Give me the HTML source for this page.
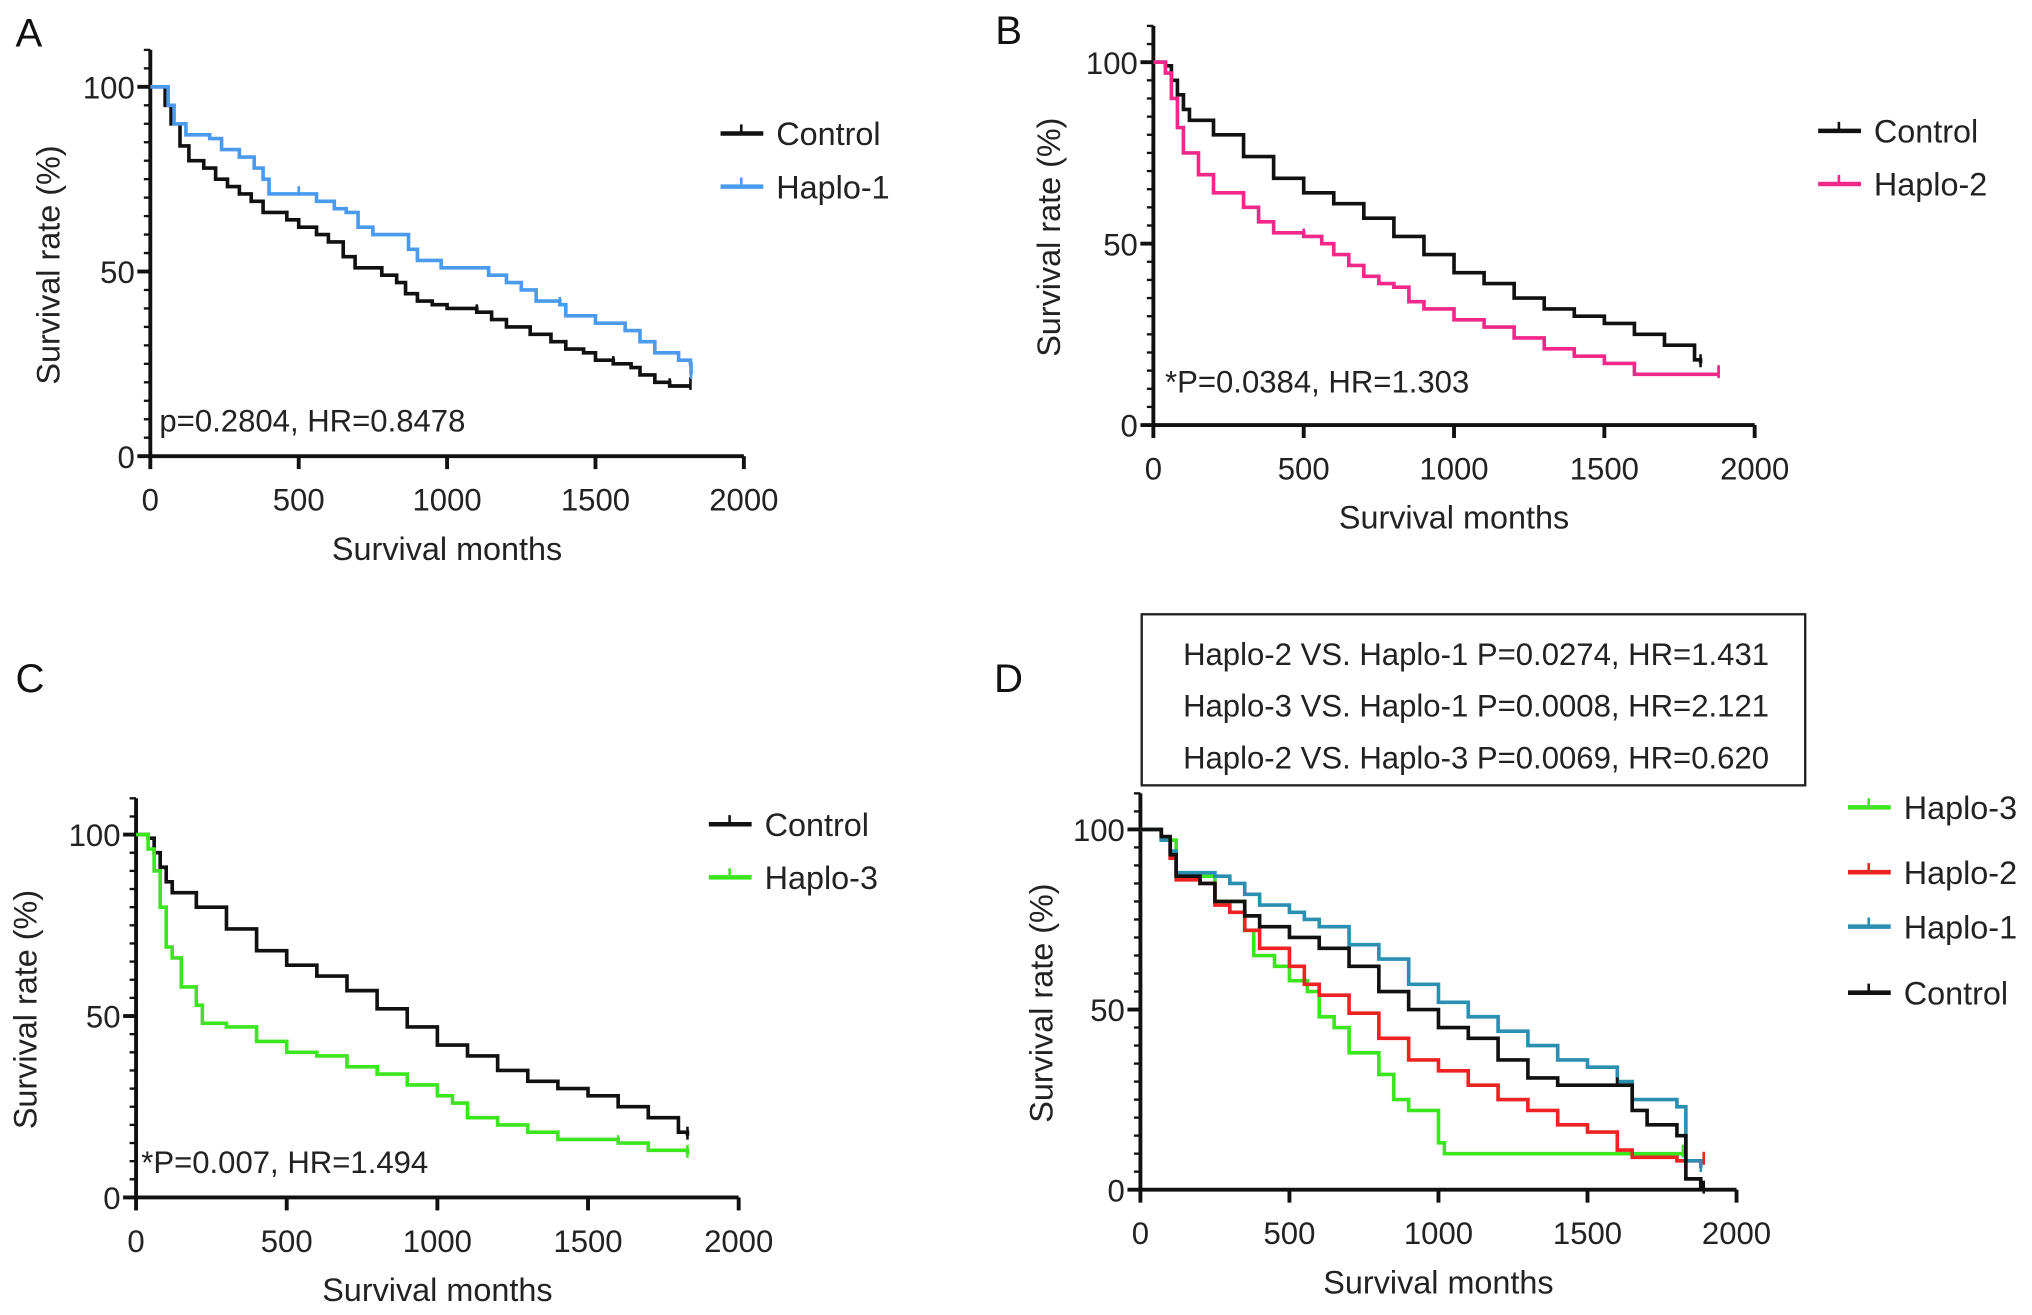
<!DOCTYPE html>
<html><head><meta charset="utf-8"><style>
html,body{margin:0;padding:0;background:#fff;}
svg{display:block;font-family:"Liberation Sans",sans-serif;}
</style></head><body>
<svg id="fig" width="2032" height="1315" viewBox="0 0 1568 1014.7" preserveAspectRatio="none" xmlns="http://www.w3.org/2000/svg"></svg>
<script>
// ---- data (time, survival %) step points ----
const xTicks = [0, 500, 1000, 1500, 2000];
const yTicks = [0, 50, 100];
const A_control = [[0,100],[30,100],[50,95],[70,90],[100,84],[130,80],[180,78],[220,75],[260,73],[300,71],[340,69],[380,66],[420,66],[460,64],[500,62],[560,60],[600,58],[650,54],[690,51],[730,51],[780,49],[830,47],[860,44],[900,42],[950,41],[1000,40],[1100,39],[1150,37],[1200,35],[1280,33],[1350,31],[1400,29],[1460,28],[1500,26],[1560,25],[1620,24],[1650,22],[1700,20],[1750,19],[1820,19]];
const A_haplo1 = [[0,100],[60,95],[80,90],[120,87],[200,86],[240,83],[300,81],[350,78],[380,75],[400,71],[500,71],[560,69],[620,67],[660,66],[700,62],[750,60],[840,60],[870,56],[900,53],[960,53],[980,51],[1100,51],[1140,49],[1200,47],[1250,45],[1300,42],[1380,41],[1400,38],[1500,36],[1600,34],[1650,31],[1700,28],[1780,26],[1820,25],[1822,22]];
const B_control = [[0,100],[40,99],[60,95],[80,91],[100,87],[120,84],[200,80],[300,74],[400,68],[500,64],[600,61],[700,57],[800,52],[900,47],[1000,42],[1100,39],[1200,35],[1300,32],[1400,30],[1500,28],[1600,25],[1700,22],[1800,18],[1820,17]];
const B_haplo2 = [[0,100],[40,97],[60,90],[80,82],[100,75],[150,69],[200,64],[300,60],[350,56],[400,53],[500,52],[560,50],[600,47],[650,44],[700,41],[750,39],[800,38],[850,34],[900,32],[1000,29],[1100,27],[1200,24],[1300,21],[1400,19],[1500,17],[1600,14],[1880,14]];
const C_control = [[0,100],[40,99],[60,95],[80,91],[100,87],[120,84],[200,80],[300,74],[400,68],[500,64],[600,61],[700,57],[800,52],[900,47],[1000,42],[1100,39],[1200,35],[1300,32],[1400,30],[1500,28],[1600,25],[1700,22],[1800,18],[1830,17]];
const C_haplo3 = [[0,100],[40,96],[60,90],[80,80],[100,69],[120,66],[150,58],[200,53],[220,48],[300,47],[400,43],[500,40],[600,39],[700,36],[800,34],[900,31],[1000,28],[1050,26],[1100,22],[1200,20],[1300,18],[1400,16],[1600,15],[1700,13],[1830,12]];
const D_haplo1 = [[0,100],[70,97],[100,94],[120,88],[250,87],[300,85],[350,82],[400,79],[500,77],[550,75],[600,73],[700,68],[800,64],[900,57],[1000,52],[1100,48],[1200,44],[1300,40],[1400,36],[1500,34],[1600,30],[1650,25],[1800,23],[1830,8],[1880,6]];
const D_control = [[0,100],[70,98],[100,93],[120,87],[200,85],[250,80],[350,76],[400,73],[500,70],[600,67],[700,62],[800,55],[900,50],[1000,45],[1100,42],[1200,36],[1300,31],[1400,29],[1600,29],[1650,22],[1700,18],[1800,15],[1830,3],[1880,0],[1890,0]];
const D_haplo2 = [[0,100],[70,97],[100,92],[120,86],[200,85],[250,79],[300,77],[350,72],[400,67],[500,62],[550,57],[600,54],[700,49],[800,42],[900,36],[1000,33],[1100,29],[1200,25],[1300,22],[1400,18],[1500,16],[1600,11],[1650,9],[1800,8],[1890,8]];
const D_haplo3 = [[0,100],[70,97],[120,87],[250,80],[350,72],[380,65],[450,62],[500,58],[560,55],[600,48],[650,45],[700,38],[800,32],[850,25],[900,22],[1000,13],[1020,10],[1820,10]];

const NS = "http://www.w3.org/2000/svg";
const svg = document.getElementById('fig');
function el(tag, attrs, parent) {
  const e = document.createElementNS(NS, tag);
  for (const k in attrs) e.setAttribute(k, attrs[k]);
  (parent || svg).appendChild(e);
  return e;
}
function txt(s, attrs, parent) { const t = el('text', attrs, parent); t.textContent = s; return t; }

function panel(cfg) {
  const g = el('g', {});
  
  
  const sx = v => cfg.x0 + (v / 2000) * (cfg.x1 - cfg.x0);
  const sy = v => cfg.y0 - (v / 100) * (cfg.y0 - cfg.y100);
  const L = txt(cfg.id, {x: cfg.lx, y: cfg.ly, 'font-size': 31, fill: '#111'}, g);
  
  
  const ax = el('g', {stroke: '#111', 'stroke-width': 3, fill: 'none'}, g);
  
  
  el('line', {x1: sx(0), y1: sy(110), x2: sx(0), y2: sy(0)}, ax);
  el('line', {x1: sx(0) - 1, y1: sy(0), x2: sx(2000), y2: sy(0)}, ax);
  for (let v = 0; v <= 110; v += 5) {
    const major = yTicks.indexOf(v) >= 0;
    el('line', {x1: sx(0) - (major ? 10 : 5), y1: sy(v), x2: sx(0), y2: sy(v), 'stroke-width': major ? 3 : 1.8}, ax);
  }
  xTicks.forEach(v => el('line', {x1: sx(v), y1: sy(0), x2: sx(v), y2: sy(0) + 10}, ax));
  yTicks.forEach(v => {
    const t = txt(String(v), {x: sx(0) - 12, y: sy(v) + 9, 'font-size': 24, 'text-anchor': 'end', fill: '#222'}, g);
    
    
  });
  xTicks.forEach(v => {
    const t = txt(String(v), {x: sx(v), y: sy(0) + 42, 'font-size': 24, 'text-anchor': 'middle', fill: '#222'}, g);
    
    
  });
  const xt = txt('Survival months', {x: (sx(0) + sx(2000)) / 2, y: sy(0) + 80, 'font-size': 25, 'text-anchor': 'middle', fill: '#222'}, g);
  
  
  const ycy = (sy(0) + sy(100)) / 2 - 5;
  const yt = txt('Survival rate (%)', {x: cfg.ytx, y: ycy, 'font-size': 25, 'text-anchor': 'middle', fill: '#222', transform: `rotate(-90 ${cfg.ytx} ${ycy})`}, g);
  
  
  cfg.series.forEach(s => {
    let d = '';
    s.data.forEach((p, i) => {
      if (i === 0) d += `M${sx(p[0])},${sy(p[1])}`;
      else d += `H${sx(p[0])}V${sy(p[1])}`;
    });
    const path = el('path', {d: d, fill: 'none', stroke: s.color, 'stroke-width': 2.8}, g);
    
    
    s.data.forEach((p, i) => {
      if (i > 0 && i % 4 === 2) {
        const c = el('line', {x1: sx(p[0]), y1: sy(p[1]) - 6, x2: sx(p[0]), y2: sy(p[1]), stroke: s.color, 'stroke-width': 2}, g);
        
        
      }
    });
    const last = s.data[s.data.length - 1];
    const c2 = el('line', {x1: sx(last[0]), y1: sy(last[1]) - 7, x2: sx(last[0]), y2: sy(last[1]) + 3, stroke: s.color, 'stroke-width': 2}, g);
    
    
  });
  cfg.series.forEach((s, i) => {
    const lg = el('g', {}, g);
    
    
    const ly = cfg.legY[i];
    el('line', {x1: cfg.legX, y1: ly, x2: cfg.legX + 33, y2: ly, stroke: s.color, 'stroke-width': 3.5}, lg);
    el('line', {x1: cfg.legX + 16, y1: ly - 7, x2: cfg.legX + 16, y2: ly, stroke: s.color, 'stroke-width': 2}, lg);
    txt(s.name, {x: cfg.legX + 43, y: ly + 9, 'font-size': 25, fill: '#222'}, lg);
  });
  if (cfg.note) {
    const n = txt(cfg.note, {x: cfg.noteX, y: cfg.noteY, 'font-size': 24, fill: '#222'}, g);
    
    
  }
}

panel({id: 'A', lx: 12, ly: 36, x0: 116, x1: 574, y0: 352, y100: 67, ytx: 46,
  series: [{name: 'Control', color: '#111', data: A_control}, {name: 'Haplo-1', color: '#4a9bf0', data: A_haplo1}],
  legX: 556, legY: [103, 144], note: 'p=0.2804, HR=0.8478', noteX: 123, noteY: 333});
panel({id: 'B', lx: 768, ly: 34, x0: 890, x1: 1354, y0: 328, y100: 48, ytx: 818,
  series: [{name: 'Control', color: '#111', data: B_control}, {name: 'Haplo-2', color: '#f0288a', data: B_haplo2}],
  legX: 1403, legY: [101, 142], note: '*P=0.0384, HR=1.303', noteX: 899, noteY: 303});
panel({id: 'C', lx: 12, ly: 534, x0: 105, x1: 570, y0: 924, y100: 644, ytx: 28,
  series: [{name: 'Control', color: '#111', data: C_control}, {name: 'Haplo-3', color: '#3ce61e', data: C_haplo3}],
  legX: 547, legY: [636, 677], note: '*P=0.007, HR=1.494', noteX: 109, noteY: 905});
panel({id: 'D', lx: 767, ly: 534, x0: 880, x1: 1340, y0: 918, y100: 640, ytx: 812,
  series: [{name: 'Haplo-3', color: '#3ce61e', data: D_haplo3}, {name: 'Haplo-2', color: '#ee2222', data: D_haplo2},
           {name: 'Haplo-1', color: '#2a8fb0', data: D_haplo1}, {name: 'Control', color: '#111', data: D_control}],
  legX: 1426, legY: [623, 673, 715, 766]});
const box = el('g', {});


el('rect', {x: 881, y: 474, width: 512, height: 132, fill: '#fff', stroke: '#222', 'stroke-width': 1.8}, box);
['Haplo-2 VS. Haplo-1 P=0.0274, HR=1.431', 'Haplo-3 VS. Haplo-1 P=0.0008, HR=2.121', 'Haplo-2 VS. Haplo-3 P=0.0069, HR=0.620']
  .forEach((s, i) => txt(s, {x: 1139, y: 513 + i * 40, 'font-size': 24, 'text-anchor': 'middle', fill: '#222'}, box));
</script>
</body></html>
